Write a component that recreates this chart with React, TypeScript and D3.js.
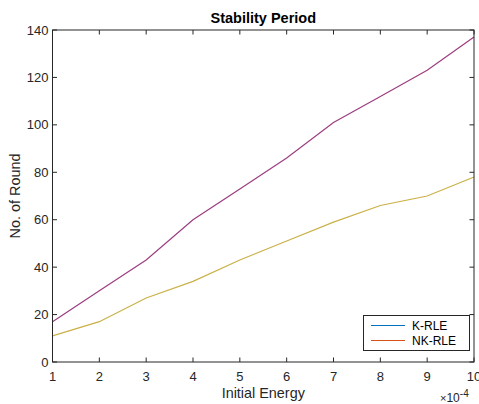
import React from "react";
import * as d3 from "d3";

const energies = [1, 2, 3, 4, 5, 6, 7, 8, 9, 10];
const kRle = [17, 30, 43, 60, 73, 86, 101, 112, 123, 137];
const nkRle = [11, 17, 27, 34, 43, 51, 59, 66, 70, 78];
const yTicks = [0, 20, 40, 60, 80, 100, 120, 140];
const xTicks = [1, 2, 3, 4, 5, 6, 7, 8, 9, 10];
const seriesNames = ["K-RLE", "NK-RLE"];
const legendColors = ["#0072BD", "#D95319"];

export default function App() {
  const W = 479, H = 404;
  const L = 52.5, R = 474, T = 30, B = 362;
  const x = d3.scaleLinear().domain([1, 10]).range([L, R]);
  const y = d3.scaleLinear().domain([0, 140]).range([B, T]);
  const line = d3.line<number>().x((_, i) => x(energies[i])).y(d => y(d));
  const font = "'Liberation Sans', Arial, Helvetica, sans-serif";
  const tl = 4.5;
  return (
    <svg width={W} height={H} style={{ position: "absolute", left: 0, top: 0, background: "#fff" }} fontFamily={font}>
      <rect x={0} y={0} width={W} height={H} fill="#fff" />
      <text x={(L + R) / 2} y={23} textAnchor="middle" fontSize={14.5} fontWeight="bold" fill="#000">Stability Period</text>
      <path d={line(kRle) || ""} fill="none" stroke="#9c3d7f" strokeWidth={1.2} />
      <path d={line(nkRle) || ""} fill="none" stroke="#cbb047" strokeWidth={1.2} />
      <rect x={L} y={T} width={R - L} height={B - T} fill="none" stroke="#262626" strokeWidth={1} />
      {xTicks.map(t => (
        <g key={"x" + t}>
          <line x1={x(t)} x2={x(t)} y1={B} y2={B - tl} stroke="#262626" />
          <line x1={x(t)} x2={x(t)} y1={T} y2={T + tl} stroke="#262626" />
          <text x={x(t)} y={381} textAnchor="middle" fontSize={13} fill="#262626">{t}</text>
        </g>
      ))}
      {yTicks.map(t => (
        <g key={"y" + t}>
          <line x1={L} x2={L + tl} y1={y(t)} y2={y(t)} stroke="#262626" />
          <line x1={R} x2={R - tl} y1={y(t)} y2={y(t)} stroke="#262626" />
          <text x={48.5} y={y(t) + 4.5} textAnchor="end" fontSize={13} fill="#262626">{t}</text>
        </g>
      ))}
      <text x={(L + R) / 2} y={398} textAnchor="middle" fontSize={14.4} fill="#262626">Initial Energy</text>
      <text x={440} y={402} fontSize={12} fill="#262626">
        <tspan fontSize={11}>×</tspan>10<tspan dy={-5} fontSize={10}>-4</tspan>
      </text>
      <text transform={`translate(20,${(T + B) / 2}) rotate(-90)`} textAnchor="middle" fontSize={14.4} fill="#262626">No. of Round</text>
      <rect x={363.5} y={315.5} width={106} height={35} fill="#fff" stroke="#262626" strokeWidth={1} />
      {seriesNames.map((n, i) => (
        <g key={n}>
          <line x1={371} x2={405} y1={325.5 + i * 15} y2={325.5 + i * 15} stroke={legendColors[i]} strokeWidth={1} />
          <text x={412} y={330 + i * 15} fontSize={12} fill="#000">{n}</text>
        </g>
      ))}
    </svg>
  );
}
